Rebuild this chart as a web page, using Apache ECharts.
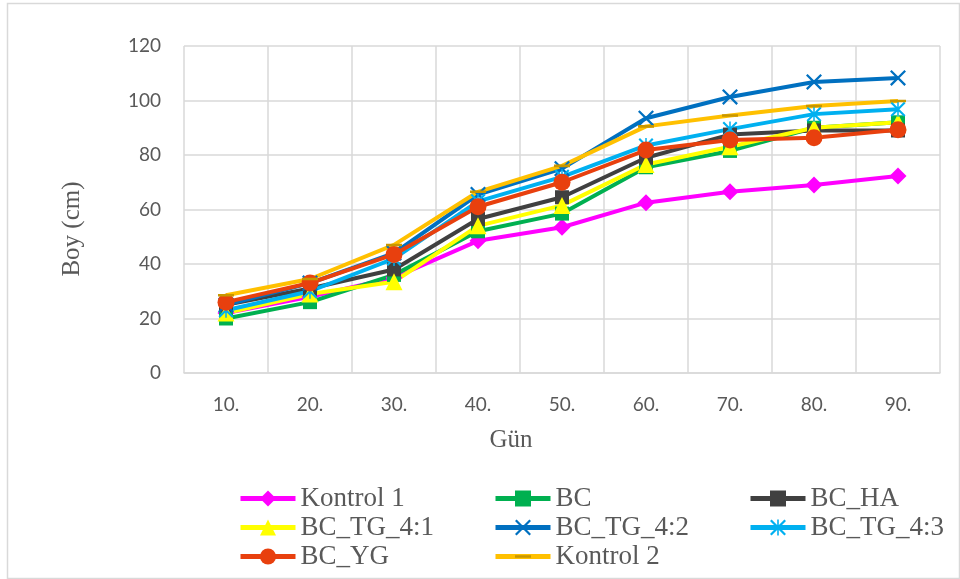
<!DOCTYPE html>
<html>
<head>
<meta charset="utf-8">
<script src="https://cdn.jsdelivr.net/npm/echarts@6/dist/echarts.min.js"></script>
<style>
html,body{margin:0;padding:0;background:#fff;}
#c{width:960px;height:579px;}
</style>
</head>
<body>
<div id="c"></div>
<script>
const categories = ["10.", "20.", "30.", "40.", "50.", "60.", "70.", "80.", "90."];
const yTicks = [0, 20, 40, 60, 80, 100, 120];
const kontrol1 = [22, 28, 35, 48.5, 53.5, 62.5, 66.5, 69, 72.3];
const bc = [20, 26, 36, 52, 58.5, 75.5, 81.5, 90, 92];
const bcHA = [25, 31, 38, 56.5, 64.5, 79, 87.5, 89, 89];
const bcTG41 = [22, 29, 33.5, 54, 61.5, 76.5, 83, 90, 92];
const bcTG42 = [25, 33, 44, 65.5, 75, 93.5, 101.3, 106.8, 108.3];
const bcTG43 = [23, 30, 42, 63, 72, 83.5, 89.5, 95, 96.8];
const bcYG = [26, 33, 43.5, 61, 70, 81.8, 85.5, 86.3, 89.3];
const kontrol2 = [28.5, 34.5, 47, 66.5, 76, 90.5, 94.5, 98, 99.8];

const X_PATH = 'path://M0,1 L1,0 L10,9 L9,10 Z M9,0 L10,1 L1,10 L0,9 Z';
const STAR_PATH = 'path://M0,1 L1,0 L10,9 L9,10 Z M9,0 L10,1 L1,10 L0,9 Z M4.5,0 L5.5,0 L5.5,10 L4.5,10 Z';
const DASH_PATH = 'path://M0,0 L0,0 Z M0,4.2 L10,4.2 L10,5.8 L0,5.8 Z M10,10 L10,10 Z';

function mk(name, data, color, symbol, size, symColor) {
  return {
    name: name, type: 'line', data: data,
    symbol: symbol, symbolSize: size,
    lineStyle: {color: color, width: 4},
    itemStyle: {color: symColor || color},
    showAllSymbol: true, animation: false
  };
}

const series = [
  mk('Kontrol 1', kontrol1, '#FF00FF', 'diamond', 17),
  mk('BC', bc, '#00B050', 'rect', 14),
  mk('BC_HA', bcHA, '#404040', 'rect', 14),
  mk('BC_TG_4:1', bcTG41, '#FFFF00', 'triangle', 17),
  mk('BC_TG_4:2', bcTG42, '#0070C0', X_PATH, 16),
  mk('BC_TG_4:3', bcTG43, '#00B0F0', STAR_PATH, 15),
  mk('BC_YG', bcYG, '#E8400E', 'circle', 17),
  mk('Kontrol 2', kontrol2, '#FFC000', DASH_PATH, 16, '#C89600')
];

const legendText = {color: '#595959', fontFamily: 'Liberation Serif', fontSize: 27, lineHeight: 29};
function lg(left, names) {
  return {
    orient: 'vertical', left: left, top: 479, data: names,
    itemWidth: 55, itemHeight: 20, itemGap: 0,
    lineStyle: {width: 5},
    textStyle: legendText, selectedMode: false
  };
}

const chart = echarts.init(document.getElementById('c'), null, {renderer: 'canvas'});
chart.setOption({
  animation: false,
  backgroundColor: '#fff',
  grid: {left: 184, top: 46, right: 20, bottom: 206},
  xAxis: {
    type: 'category', data: categories, boundaryGap: true,
    axisLine: {lineStyle: {color: '#D9D9D9', width: 1.5}},
    axisTick: {show: false},
    axisLabel: {color: '#595959', fontFamily: 'Lato', fontSize: 19, margin: 22},
    splitLine: {show: true, interval: 0, lineStyle: {color: '#D9D9D9', width: 1.5}}
  },
  yAxis: {
    type: 'value', min: yTicks[0], max: yTicks[yTicks.length - 1], interval: 20,
    axisLine: {show: false}, axisTick: {show: false},
    axisLabel: {color: '#595959', fontFamily: 'Lato', fontSize: 19, margin: 23},
    splitLine: {lineStyle: {color: '#D9D9D9', width: 1.5}}
  },
  legend: [
    lg(233, ['Kontrol 1', 'BC_TG_4:1', 'BC_YG']),
    lg(488, ['BC', 'BC_TG_4:2', 'Kontrol 2']),
    lg(743, ['BC_HA', 'BC_TG_4:3'])
  ],
  graphic: [
    {type: 'rect', left: 5, top: 1, shape: {width: 952, height: 575}, style: {fill: 'none', stroke: '#D9D9D9', lineWidth: 1.5}, silent: true, z: -10},
    {type: 'text', x: 72, y: 229, rotation: Math.PI / 2, style: {text: 'Boy (cm)', fill: '#595959', font: '25px "Liberation Serif"', align: 'center', verticalAlign: 'middle'}},
    {type: 'text', x: 511, y: 440, style: {text: 'Gün', fill: '#595959', font: '25px "Liberation Serif"', align: 'center', verticalAlign: 'middle'}}
  ],
  series: series
});
</script>
</body>
</html>
